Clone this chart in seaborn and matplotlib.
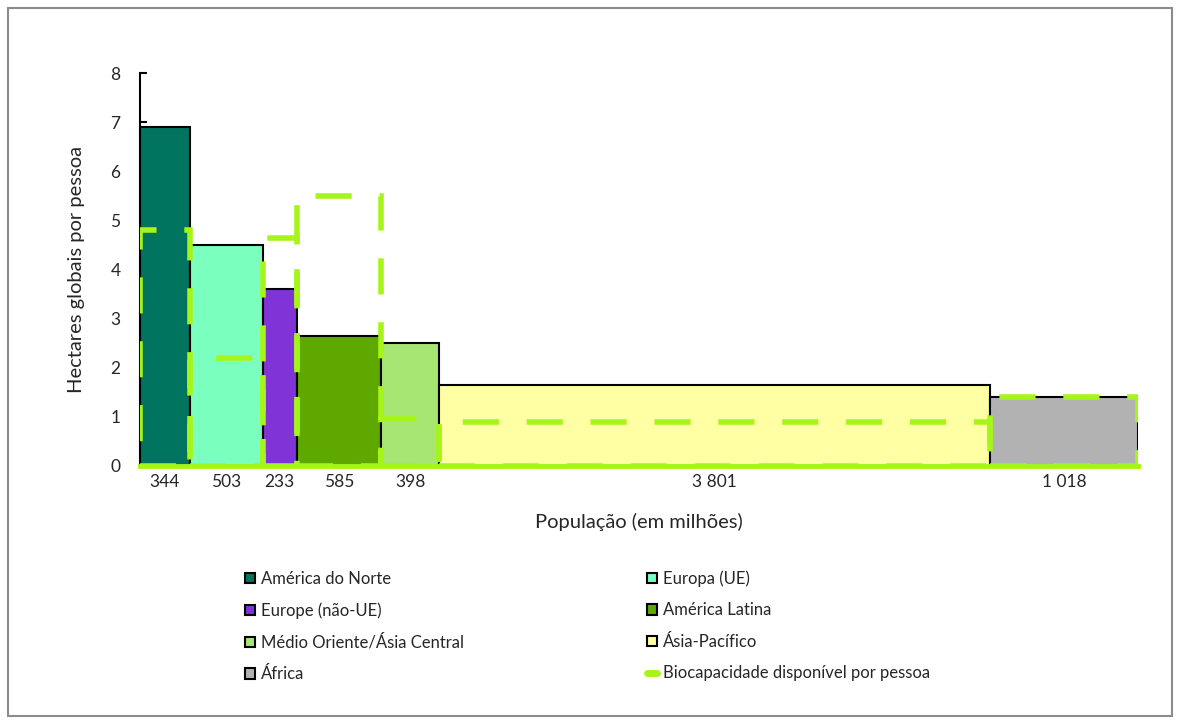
import numpy as np
import matplotlib
matplotlib.use("Agg")
import matplotlib.pyplot as plt
from matplotlib.patches import Patch, Rectangle
from matplotlib.lines import Line2D
import seaborn as sns

# Ecological footprint vs. biocapacity per person, by region
regions = ["América do Norte", "Europa (UE)", "Europe (não-UE)", "América Latina",
           "Médio Oriente/Ásia Central", "Ásia-Pacífico", "África"]
population = [344, 503, 233, 585, 398, 3801, 1018]          # millions
pop_labels = ["344", "503", "233", "585", "398", "3 801", "1 018"]
footprint = [6.9, 4.5, 3.6, 2.65, 2.5, 1.65, 1.4]            # gha per person
biocapacity = [4.8, 2.2, 4.65, 5.5, 0.95, 0.9, 1.4]         # gha per person
colors = ["#00745F", "#7BFFBE", "#8033D6", "#5FA800", "#A8E673", "#FFFFA3", "#B2B2B2"]
bio_color = "#A6F51A"
bio_label = "Biocapacidade disponível por pessoa"

sns.set_theme(style="white")
plt.rcParams["font.family"] = ["Lato", "DejaVu Sans"]

fig = plt.figure(figsize=(11.8, 7.24), dpi=100)
ax = fig.add_axes([0.1186, 0.3564, 0.8458, 0.5426])

pop = np.array(population, dtype=float)
lefts = np.concatenate([[0], np.cumsum(pop)[:-1]])

ax.bar(lefts, footprint, width=pop, align="edge", color=colors,
       edgecolor="black", linewidth=1.5, zorder=2)
ax.bar(lefts, biocapacity, width=pop, align="edge", fill=False,
       edgecolor=bio_color, linewidth=4, linestyle=(0, (6.5, 5)), zorder=3)

total = pop.sum()
ax.set_xlim(0, total)
ax.set_ylim(0, 8)
ax.set_yticks(range(0, 9))
ax.set_xticks([])
ax.tick_params(axis="y", direction="in", length=5, width=1.5, color="black",
               labelsize=12.5, pad=14, left=True)
for s in ["top", "right"]:
    ax.spines[s].set_visible(False)
ax.spines["left"].set_color("black")
ax.spines["left"].set_linewidth(1.5)
ax.spines["bottom"].set_color(bio_color)
ax.spines["bottom"].set_linewidth(3.5)
ax.spines["bottom"].set_zorder(4)

centers = lefts + pop / 2
for c, lab in zip(centers, pop_labels):
    ax.annotate(lab, (c, 0), xytext=(0, -6), textcoords="offset points",
                ha="center", va="top", fontsize=12.5)

ax.set_ylabel("Hectares globais por pessoa", fontsize=14.5, labelpad=18)
ax.set_xlabel("População (em milhões)", fontsize=14.5, labelpad=34)

handles = [Patch(facecolor=c, edgecolor="black", linewidth=1.5) for c in colors]
handles.append(Line2D([0], [0], color=bio_color, linewidth=5, linestyle="-"))
labels = regions + [bio_label]
# row-major ordering across the two legend columns
order = [0, 2, 4, 6, 1, 3, 5, 7]
leg = fig.legend([handles[i] for i in order], [labels[i] for i in order],
                 ncol=2, loc="upper left", bbox_to_anchor=(0.195, 0.233),
                 frameon=False, fontsize=12, handlelength=0.6, handleheight=0.6,
                 handletextpad=0.35, columnspacing=11.0, labelspacing=0.93)

fig.patches.append(Rectangle((0.007, 0.011), 0.986, 0.978, transform=fig.transFigure,
                             fill=False, edgecolor="#8C8C8C", linewidth=1.5))

fig.savefig("out.png", dpi=100, facecolor="white")
